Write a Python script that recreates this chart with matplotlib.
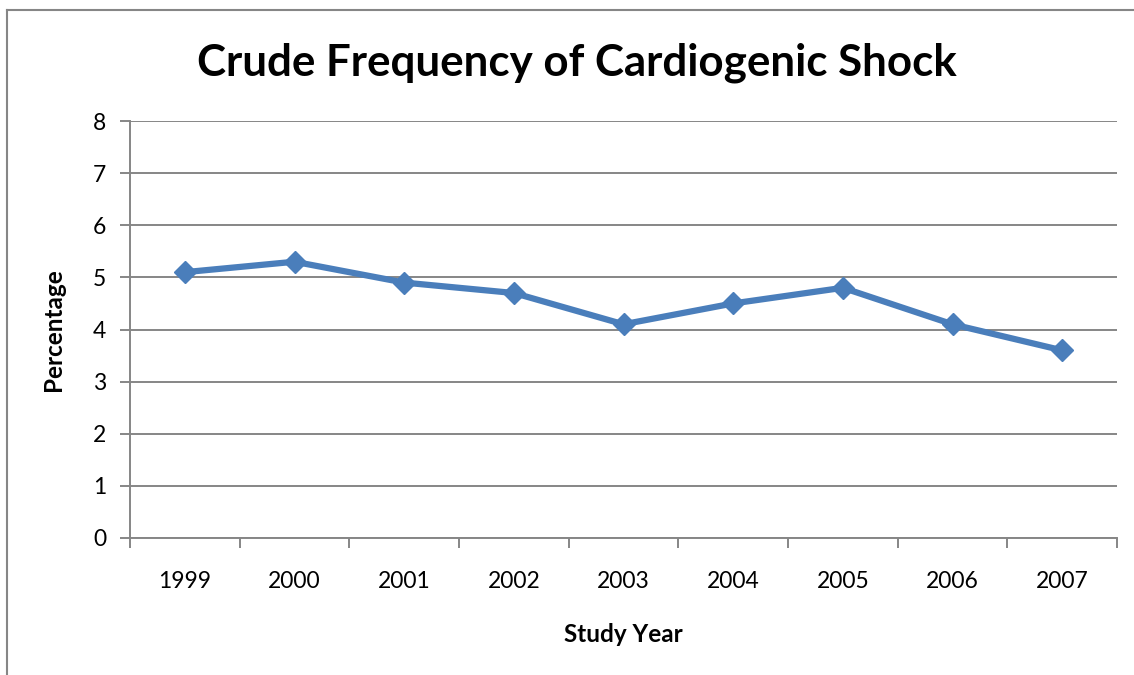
import matplotlib
matplotlib.use("Agg")
import matplotlib.pyplot as plt
from matplotlib.lines import Line2D

years = ["1999", "2000", "2001", "2002", "2003", "2004", "2005", "2006", "2007"]
values = [5.1, 5.3, 4.9, 4.7, 4.1, 4.5, 4.8, 4.1, 3.6]
yticks = [0, 1, 2, 3, 4, 5, 6, 7, 8]

FONT = "Lato"
W, H = 1134, 675
fig = plt.figure(figsize=(W / 100, H / 100), dpi=100)
fig.patch.set_facecolor("white")

ax = fig.add_axes([130 / W, 1 - 538 / H, (1117 - 130) / W, (538 - 121) / H])

x = list(range(len(years)))
ax.plot(x, values, color="#4A7EBB", linewidth=4.5, marker="D", markersize=11,
        markerfacecolor="#4A7EBB", markeredgecolor="#4A7EBB", solid_joinstyle="round",
        zorder=3, clip_on=False)

ax.set_xlim(-0.5, len(years) - 0.5)
ax.set_ylim(0, 8)
ax.set_yticks(yticks)
ax.set_yticklabels([str(v) for v in yticks], fontsize=16.5, fontname=FONT)
ax.set_xticks(x)
ax.set_xticklabels(years, fontsize=16.5, fontname=FONT)
ax.set_xticks([i - 0.5 for i in range(len(years) + 1)], minor=True)

ax.grid(axis="y", color="#868686", linewidth=1.4, zorder=0)
ax.set_axisbelow(True)
for s in ["top", "right"]:
    ax.spines[s].set_visible(False)
for s in ["left", "bottom"]:
    ax.spines[s].set_color("#868686")
    ax.spines[s].set_linewidth(1.4)

ax.tick_params(axis="y", which="major", length=7, width=1.4, color="#868686", pad=10)
ax.tick_params(axis="x", which="major", length=0, pad=24)
ax.tick_params(axis="x", which="minor", length=7, width=1.4, color="#868686")

ax.set_ylabel("Percentage", fontsize=17.5, fontweight="bold", fontname=FONT, labelpad=20)
ax.set_xlabel("Study Year", fontsize=17.5, fontweight="bold", fontname=FONT, labelpad=22)

fig.text(577 / W, 1 - 63 / H, "Crude Frequency of Cardiogenic Shock", ha="center", va="center",
         fontsize=31.6, fontweight="bold", fontname=FONT)

# outer chart border (left and top edges visible)
fig.add_artist(Line2D([7 / W, 7 / W], [0, 1 - 10 / H], transform=fig.transFigure,
                      color="#868686", linewidth=1.5))
fig.add_artist(Line2D([7 / W, 1], [1 - 10 / H, 1 - 10 / H], transform=fig.transFigure,
                      color="#868686", linewidth=1.5))

fig.savefig("out.png", dpi=100, facecolor="white")
